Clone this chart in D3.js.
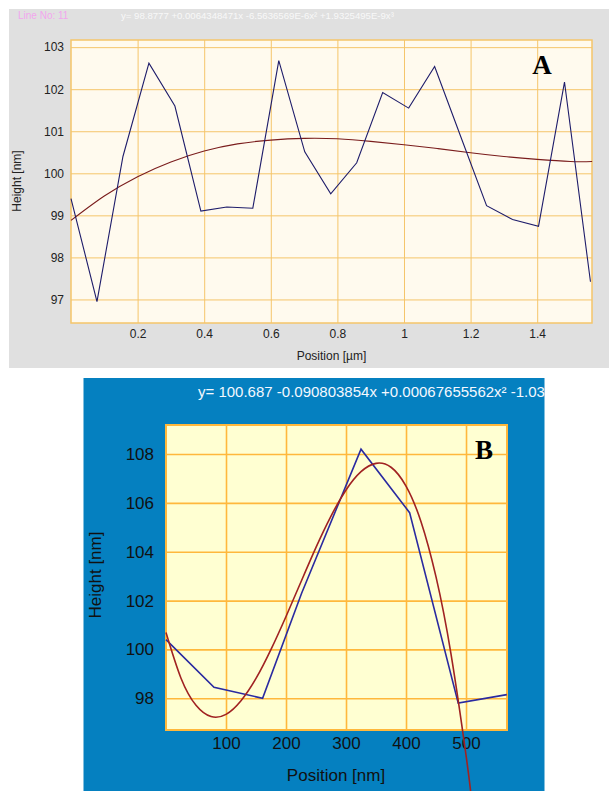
<!DOCTYPE html>
<html>
<head>
<meta charset="utf-8">
<script src="https://cdn.jsdelivr.net/npm/d3@7"></script>
<style>
  body { margin: 0; background: #fff; }
  text { font-family: Arial, "Liberation Sans", sans-serif; }
</style>
</head>
<body>
<div id="plot"></div>
<script>
// panel A: line profile in um, heights in nm
const posA = [0, 0.078, 0.156, 0.234, 0.312, 0.39, 0.468, 0.546, 0.624, 0.702, 0.78,
              0.858, 0.936, 1.014, 1.092, 1.17, 1.248, 1.326, 1.404, 1.482, 1.56];
const heightA = [99.4, 96.95, 100.4, 102.62, 101.6, 99.1, 99.2, 99.17, 102.68, 100.51, 99.51,
                 100.25, 101.92, 101.55, 102.54, 100.88, 99.23, 98.9, 98.74, 102.17, 97.42];
const fitPosA = [0, 0.1, 0.2, 0.3, 0.4, 0.5, 0.6, 0.7, 0.8, 0.9, 1.0, 1.1, 1.2, 1.3, 1.4, 1.5, 1.565];
const fitA = [98.88, 99.46, 99.92, 100.27, 100.53, 100.70, 100.79, 100.83, 100.82, 100.76,
              100.68, 100.59, 100.49, 100.40, 100.33, 100.28, 100.28];
const xTicksA = [0.2, 0.4, 0.6, 0.8, 1, 1.2, 1.4];
const yTicksA = [97, 98, 99, 100, 101, 102, 103];
const titleA = "Line No: 11";
const formulaA = "y= 98.8777 +0.0064348471x -6.5636569E-6x\u00b2 +1.9325495E-9x\u00b3";

// panel B: position in nm
const posB = [0, 80, 161, 226, 325, 406, 487, 568];
const heightB = [100.4, 98.45, 98.0, 102.3, 108.2, 105.6, 97.8, 98.15];
const fitPosB = [0, 25, 50, 75, 100, 125, 150, 175, 200, 225, 250, 275, 300, 325, 350,
                 375, 400, 425, 450, 475, 500, 508];
const fitB = [100.69, 98.82, 97.71, 97.25, 97.34, 97.90, 98.81, 100.0, 101.35, 102.77, 104.18,
              105.46, 106.53, 107.28, 107.62, 107.46, 106.69, 105.23, 102.97, 99.81, 95.67, 94.12];
const xTicksB = [100, 200, 300, 400, 500];
const yTicksB = [98, 100, 102, 104, 106, 108];
const formulaB = "y= 100.687 -0.090803854x +0.00067655562x\u00b2 -1.03";

const serif = "'Times New Roman', 'Liberation Serif', serif";

const svg = d3.select("#plot").append("svg")
    .attr("width", 609)
    .attr("height", 791);

// ---------- panel A ----------
svg.append("rect")
    .attr("x", 9).attr("y", 9).attr("width", 600).attr("height", 359)
    .attr("fill", "#e0e0e0");

svg.append("text").attr("x", 18).attr("y", 19)
    .attr("font-size", 10).attr("fill", "#f2a6ee").text(titleA);
svg.append("text").attr("x", 121).attr("y", 19)
    .attr("font-size", 9.6).attr("fill", "#f8f8f8").text(formulaA);

const mA = {left: 71, top: 40, width: 521, height: 283};
const gA = svg.append("g").attr("transform", `translate(${mA.left},${mA.top})`);

const xA = d3.scaleLinear().domain([0, 1.5646]).range([0, mA.width]);
const yA = d3.scaleLinear().domain([96.44, 103.17]).range([mA.height, 0]);

gA.append("rect")
    .attr("width", mA.width).attr("height", mA.height)
    .attr("fill", "#fffaee");

gA.append("g")
    .attr("transform", `translate(0,${mA.height})`)
    .call(d3.axisBottom(xA).tickValues(xTicksA).tickSize(-mA.height).tickPadding(6)
        .tickFormat(d3.format("")))
    .call(g => g.select(".domain").remove())
    .call(g => g.selectAll("line").attr("stroke", "#f5c56a"))
    .call(g => g.selectAll("text").attr("font-size", 12).attr("fill", "#222"));

gA.append("g")
    .call(d3.axisLeft(yA).tickValues(yTicksA).tickSize(-mA.width).tickPadding(7)
        .tickFormat(d3.format("d")))
    .call(g => g.select(".domain").remove())
    .call(g => g.selectAll("line").attr("stroke", "#f5c56a"))
    .call(g => g.selectAll("text").attr("font-size", 12).attr("fill", "#222"));

gA.append("rect")
    .attr("width", mA.width).attr("height", mA.height)
    .attr("fill", "none").attr("stroke", "#f5c56a").attr("stroke-width", 1.5);

gA.append("path")
    .datum(fitPosA.map((p, i) => [p, fitA[i]]))
    .attr("fill", "none").attr("stroke", "#7a1c1c").attr("stroke-width", 1.1)
    .attr("d", d3.line().x(d => xA(d[0])).y(d => yA(d[1])).curve(d3.curveNatural));

gA.append("path")
    .datum(posA.map((p, i) => [p, heightA[i]]))
    .attr("fill", "none").attr("stroke", "#1e1c6a").attr("stroke-width", 1.1)
    .attr("d", d3.line().x(d => xA(d[0])).y(d => yA(d[1])));

svg.append("text")
    .attr("x", mA.left + mA.width / 2).attr("y", 360)
    .attr("text-anchor", "middle").attr("font-size", 12).attr("fill", "#222")
    .text("Position [\u00b5m]");

svg.append("text")
    .attr("transform", `translate(21,181) rotate(-90)`)
    .attr("text-anchor", "middle").attr("font-size", 12).attr("fill", "#222")
    .text("Height [nm]");

svg.append("text")
    .attr("x", 542).attr("y", 74)
    .attr("text-anchor", "middle")
    .style("font-family", serif)
    .attr("font-weight", "bold").attr("font-size", 27)
    .text("A");

// ---------- panel B ----------
svg.append("rect")
    .attr("x", 83.5).attr("y", 378).attr("width", 461).attr("height", 413)
    .attr("fill", "#0580c0");

svg.append("text").attr("x", 198).attr("y", 397)
    .attr("font-size", 15).attr("fill", "#f4f8ff").text(formulaB);

const mB = {left: 166, top: 425, width: 341, height: 305};
const gB = svg.append("g").attr("transform", `translate(${mB.left},${mB.top})`);

const xB = d3.scaleLinear().domain([0, 568.3]).range([0, mB.width]);
const yB = d3.scaleLinear().domain([96.70, 109.19]).range([mB.height, 0]);

gB.append("rect")
    .attr("width", mB.width).attr("height", mB.height)
    .attr("fill", "#ffffd2");

gB.append("g")
    .attr("transform", `translate(0,${mB.height})`)
    .call(d3.axisBottom(xB).tickValues(xTicksB).tickSize(-mB.height).tickPadding(7))
    .call(g => g.select(".domain").remove())
    .call(g => g.selectAll("line").attr("stroke", "#ffb83c").attr("stroke-width", 1.6))
    .call(g => g.selectAll("text").attr("font-size", 17).attr("fill", "#111"));

gB.append("g")
    .call(d3.axisLeft(yB).tickValues(yTicksB).tickSize(-mB.width).tickPadding(12))
    .call(g => g.select(".domain").remove())
    .call(g => g.selectAll("line").attr("stroke", "#ffb83c").attr("stroke-width", 1.6))
    .call(g => g.selectAll("text").attr("font-size", 17).attr("fill", "#111"));

gB.append("rect")
    .attr("width", mB.width).attr("height", mB.height)
    .attr("fill", "none").attr("stroke", "#ffb83c").attr("stroke-width", 2);

gB.append("path")
    .datum(posB.map((p, i) => [p, heightB[i]]))
    .attr("fill", "none").attr("stroke", "#2a2aa0").attr("stroke-width", 1.6)
    .attr("d", d3.line().x(d => xB(d[0])).y(d => yB(d[1])));

gB.append("path")
    .datum(fitPosB.map((p, i) => [p, fitB[i]]))
    .attr("fill", "none").attr("stroke", "#a02222").attr("stroke-width", 1.6)
    .attr("d", d3.line().x(d => xB(d[0])).y(d => yB(d[1])).curve(d3.curveNatural));

svg.append("text")
    .attr("x", 336).attr("y", 781)
    .attr("text-anchor", "middle").attr("font-size", 17).attr("fill", "#111")
    .text("Position [nm]");

svg.append("text")
    .attr("transform", `translate(101,575) rotate(-90)`)
    .attr("text-anchor", "middle").attr("font-size", 17).attr("fill", "#111")
    .text("Height [nm]");

svg.append("text")
    .attr("x", 484).attr("y", 459)
    .attr("text-anchor", "middle")
    .style("font-family", serif)
    .attr("font-weight", "bold").attr("font-size", 27)
    .text("B");
</script>
</body>
</html>
